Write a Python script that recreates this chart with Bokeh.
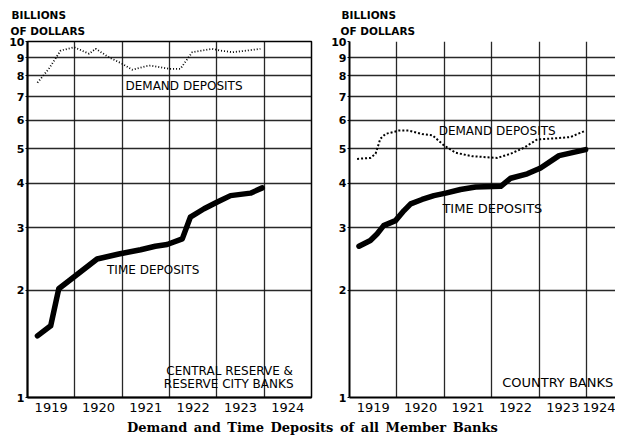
from bokeh.plotting import figure
from bokeh.models import FixedTicker, CustomJSTickFormatter, Label, Div, Range1d, Title
from bokeh.layouts import column, row
from bokeh.embed import file_html
from bokeh.resources import INLINE

# ---- data (billions of dollars, log scale) ----
years = [1919, 1920, 1921, 1922, 1923, 1924]
y_ticks = [1, 2, 3, 4, 5, 6, 7, 8, 9, 10]

# Central reserve & reserve city banks
crc_time_x = [1919.21, 1919.49, 1919.66, 1919.98, 1920.47, 1920.93, 1921.39, 1921.70,
              1921.95, 1922.27, 1922.44, 1922.73, 1923.01, 1923.29, 1923.71, 1923.96]
crc_time_y = [1.49, 1.59, 2.02, 2.18, 2.45, 2.53, 2.60, 2.66,
              2.69, 2.79, 3.21, 3.39, 3.54, 3.69, 3.75, 3.88]
crc_demand_x = [1919.21, 1919.45, 1919.70, 1919.98, 1920.30, 1920.44, 1920.72, 1921.00,
                1921.21, 1921.49, 1921.60, 1921.99, 1922.23, 1922.48, 1922.90, 1923.08,
                1923.33, 1923.64, 1923.92]
crc_demand_y = [7.66, 8.38, 9.43, 9.64, 9.24, 9.54, 9.03, 8.66,
                8.33, 8.52, 8.56, 8.38, 8.38, 9.33, 9.54, 9.43,
                9.33, 9.43, 9.54]

# Country banks
cty_time_x = [1919.20, 1919.44, 1919.58, 1919.72, 1919.97, 1920.15, 1920.29, 1920.53,
              1920.78, 1921.03, 1921.34, 1921.66, 1922.19, 1922.40, 1922.75, 1923.03,
              1923.42, 1923.98]
cty_time_y = [2.66, 2.76, 2.88, 3.04, 3.14, 3.35, 3.50, 3.60,
              3.69, 3.75, 3.84, 3.90, 3.92, 4.13, 4.25, 4.41,
              4.78, 4.97]
cty_demand_x = [1919.16, 1919.44, 1919.55, 1919.65, 1919.76, 1920.04, 1920.25, 1920.53,
                1920.75, 1920.99, 1921.24, 1921.59, 1922.12, 1922.40, 1922.68, 1922.96,
                1923.38, 1923.66, 1923.98]
cty_demand_y = [4.68, 4.71, 4.84, 5.33, 5.50, 5.62, 5.62, 5.50,
                5.45, 5.11, 4.87, 4.76, 4.71, 4.84, 5.03, 5.31,
                5.35, 5.39, 5.62]

LETTER = "DejaVu Sans"
FRAME_H = 356


def make_panel(x_end, frame_w, border_left, border_right, outline):
    p = figure(y_axis_type="log", x_range=Range1d(1919, x_end), y_range=Range1d(1, 10),
               frame_width=frame_w, frame_height=FRAME_H,
               min_border_left=border_left, min_border_right=border_right,
               min_border_top=41, min_border_bottom=18,
               output_backend="svg", toolbar_location=None,
               background_fill_color="white", border_fill_color="white")
    p.outline_line_color = "black" if outline else None
    p.outline_line_width = 1.5

    p.ygrid.ticker = FixedTicker(ticks=y_ticks)
    p.xgrid.ticker = FixedTicker(ticks=[y + 1 for y in years])
    p.grid.grid_line_color = "#111111"
    p.grid.grid_line_width = 1.3
    p.grid.grid_line_alpha = 0.9

    p.yaxis.ticker = FixedTicker(ticks=y_ticks)
    p.yaxis.formatter = CustomJSTickFormatter(code="return String(Math.round(tick));")
    p.yaxis.major_label_text_font = LETTER
    p.yaxis.major_label_text_font_style = "bold"
    p.yaxis.major_label_text_font_size = "11px"
    p.yaxis.major_tick_out = 2
    p.yaxis.major_tick_in = 0
    p.yaxis.major_label_standoff = 1
    p.yaxis.minor_tick_line_color = None

    p.xaxis.ticker = FixedTicker(ticks=[y + 0.5 for y in years])
    p.xaxis.formatter = CustomJSTickFormatter(code="return String(Math.floor(tick));")
    p.xaxis.major_label_text_font = LETTER
    p.xaxis.major_label_text_font_size = "13px"
    p.xaxis.major_tick_line_color = None
    p.xaxis.major_tick_out = 0
    p.xaxis.major_label_standoff = 5
    p.xaxis.minor_tick_line_color = None

    p.axis.axis_line_color = "black"
    p.axis.axis_line_width = 2
    p.axis.major_label_text_color = "black"
    return p


def add_text(p, x, y, text, size="12px", align="left"):
    p.add_layout(Label(x=x, y=y, text=text, text_font=LETTER, text_font_size=size,
                       text_align=align, text_baseline="middle", text_color="black"))


def add_unit_titles(p, offset):
    # stacked outward from the frame: first added sits closest to the frame
    p.add_layout(Title(text="OF DOLLARS", align="left", offset=offset, standoff=9,
                       text_font=LETTER, text_font_size="10.5px", text_font_style="bold",
                       text_color="black"), "above")
    p.add_layout(Title(text="BILLIONS", align="left", offset=offset + 1, standoff=-4,
                       text_font=LETTER, text_font_size="10.5px", text_font_style="bold",
                       text_color="black"), "above")


# ---- left panel ----
p1 = make_panel(1925, 284, 27, 10, True)
p1.line(crc_demand_x, crc_demand_y, line_color="black", line_width=1.8, line_dash="1 2")
p1.line(crc_time_x, crc_time_y, line_color="black", line_width=5.5,
        line_join="round", line_cap="round")
add_text(p1, 1921.07, 7.52, "DEMAND DEPOSITS")
add_text(p1, 1920.68, 2.28, "TIME DEPOSITS")
add_text(p1, 1923.27, 1.185, "CENTRAL RESERVE &", align="center")
add_text(p1, 1923.25, 1.093, "RESERVE CITY BANKS", align="center")
add_unit_titles(p1, -17)

# ---- right panel ----
p2 = make_panel(1924.61, 266, 28, 0, False)
p2.line(cty_demand_x, cty_demand_y, line_color="black", line_width=2, line_dash="2 2")
p2.line(cty_time_x, cty_time_y, line_color="black", line_width=5.5,
        line_join="round", line_cap="round")
add_text(p2, 1920.88, 5.62, "DEMAND DEPOSITS")
add_text(p2, 1920.96, 3.39, "TIME DEPOSITS", size="13px")
add_text(p2, 1922.22, 1.104, "COUNTRY BANKS", size="13px")
add_unit_titles(p2, -9)

caption = Div(text='<div style="width:615px;text-align:center;font-family:\'DejaVu Serif\';'
                   'font-weight:bold;font-size:13px;word-spacing:2px;line-height:16px;'
                   'color:black;">Demand and Time Deposits of all Member Banks</div>',
              width=615, height=16)

layout = column(row(p1, p2), caption)
open("out.html", "w").write(file_html(layout, INLINE))
